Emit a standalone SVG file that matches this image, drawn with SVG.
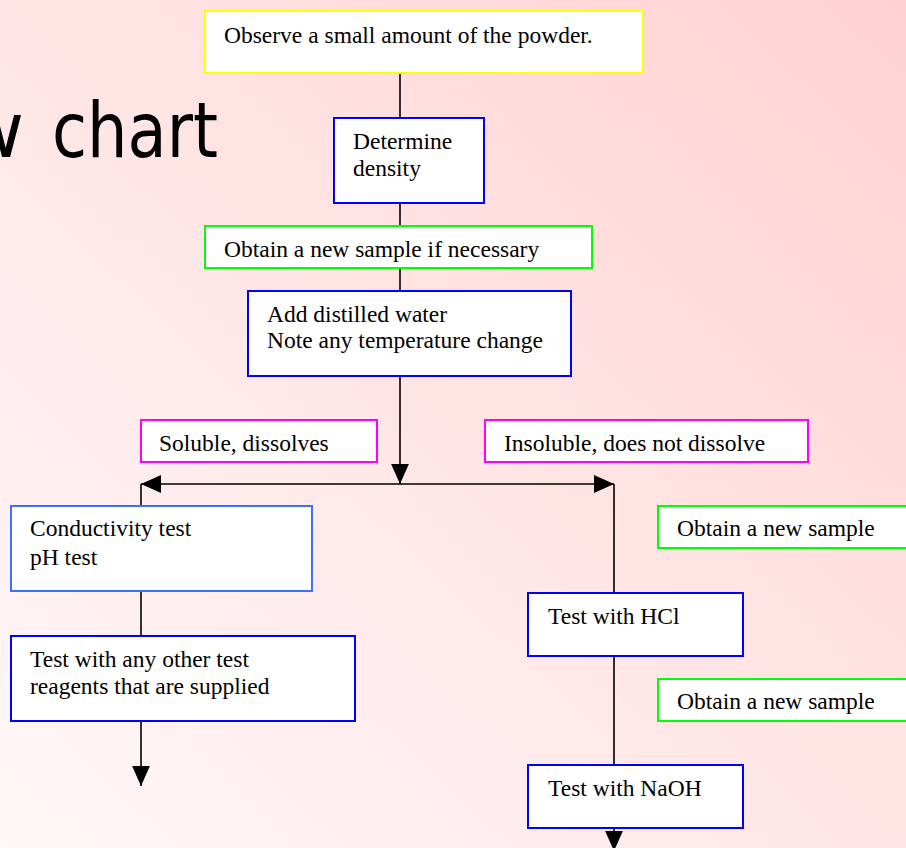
<svg xmlns="http://www.w3.org/2000/svg" width="906" height="848" viewBox="0 0 906 848">
  <defs>
    <linearGradient id="bg" x1="0" y1="1" x2="1" y2="0">
      <stop offset="0" stop-color="#FFF8F8"/>
      <stop offset="1" stop-color="#FFD2D2"/>
    </linearGradient>
    <marker id="arr" markerUnits="userSpaceOnUse" markerWidth="20" markerHeight="20" viewBox="0 0 18 18" refX="18" refY="9" orient="auto-start-reverse">
      <path d="M0,1 L18,9 L0,17 Z" fill="#000"/>
    </marker>
  </defs>
  <style>
    .box { fill: #FFFFFF; stroke-width: 2; }
    .blue { stroke: #0000FF; }
    .lblue { stroke: #3F6FFF; }
    .yellow { stroke: #FFFF00; }
    .green { stroke: #00FF00; }
    .magenta { stroke: #FF00FF; }
    .t { font-family: "Liberation Serif", "Times New Roman", serif; font-size: 23.5px; fill: #000; }
    .ln { stroke: #000; stroke-width: 1.6; fill: none; }
    .title { font-family: "DejaVu Sans", Tahoma, sans-serif; font-size: 76px; fill: #000; }
  </style>
  <rect x="0" y="0" width="906" height="848" fill="url(#bg)"/>
  <text class="title" y="157"><tspan x="-38">w </tspan><tspan x="52" textLength="166" lengthAdjust="spacingAndGlyphs">chart</tspan></text>

  <g id="connectors">
    <line class="ln" x1="400" y1="73" x2="400" y2="118"/>
    <line class="ln" x1="400" y1="203" x2="400" y2="226"/>
    <line class="ln" x1="400" y1="268" x2="400" y2="291"/>
    <line class="ln" x1="400" y1="376" x2="400" y2="484" marker-end="url(#arr)"/>
    <line class="ln" x1="141" y1="484" x2="614" y2="484" marker-start="url(#arr)" marker-end="url(#arr)"/>
    <line class="ln" x1="141" y1="484" x2="141" y2="506"/>
    <line class="ln" x1="614" y1="484" x2="614" y2="593"/>
    <line class="ln" x1="141" y1="591" x2="141" y2="636"/>
    <line class="ln" x1="141" y1="721" x2="141" y2="786" marker-end="url(#arr)"/>
    <line class="ln" x1="614" y1="656" x2="614" y2="765"/>
    <line class="ln" x1="614" y1="828" x2="614" y2="851" marker-end="url(#arr)"/>
  </g>

  <g id="observe">
    <rect class="box yellow" x="205" y="11" width="438" height="62"/>
    <text class="t" x="224" y="43">Observe a small amount of the powder.</text>
  </g>
  <g id="density">
    <rect class="box blue" x="334" y="118" width="150" height="85"/>
    <text class="t" x="353" y="149">Determine</text>
    <text class="t" x="353" y="176">density</text>
  </g>
  <g id="newsample1">
    <rect class="box green" x="205" y="226" width="387" height="42"/>
    <text class="t" x="224" y="257">Obtain a new sample if necessary</text>
  </g>
  <g id="water">
    <rect class="box blue" x="248" y="291" width="323" height="85"/>
    <text class="t" x="267" y="322">Add distilled water</text>
    <text class="t" x="267" y="348">Note any temperature change</text>
  </g>
  <g id="soluble">
    <rect class="box magenta" x="141" y="420" width="236" height="42"/>
    <text class="t" x="159" y="451">Soluble, dissolves</text>
  </g>
  <g id="insoluble">
    <rect class="box magenta" x="485" y="420" width="323" height="42"/>
    <text class="t" x="504" y="451">Insoluble, does not dissolve</text>
  </g>
  <g id="conductivity">
    <rect class="box lblue" x="11" y="506" width="301" height="85"/>
    <text class="t" x="30" y="536">Conductivity test</text>
    <text class="t" x="30" y="565">pH test</text>
  </g>
  <g id="othertests">
    <rect class="box blue" x="11" y="636" width="344" height="85"/>
    <text class="t" x="30" y="667">Test with any other test</text>
    <text class="t" x="30" y="694">reagents that are supplied</text>
  </g>
  <g id="newsample2">
    <rect class="box green" x="658" y="506" width="262" height="42"/>
    <text class="t" x="677" y="536">Obtain a new sample</text>
  </g>
  <g id="hcl">
    <rect class="box blue" x="528" y="593" width="215" height="63"/>
    <text class="t" x="548" y="624">Test with HCl</text>
  </g>
  <g id="newsample3">
    <rect class="box green" x="658" y="679" width="262" height="42"/>
    <text class="t" x="677" y="709">Obtain a new sample</text>
  </g>
  <g id="naoh">
    <rect class="box blue" x="528" y="765" width="215" height="63"/>
    <text class="t" x="548" y="796">Test with NaOH</text>
  </g>
</svg>
